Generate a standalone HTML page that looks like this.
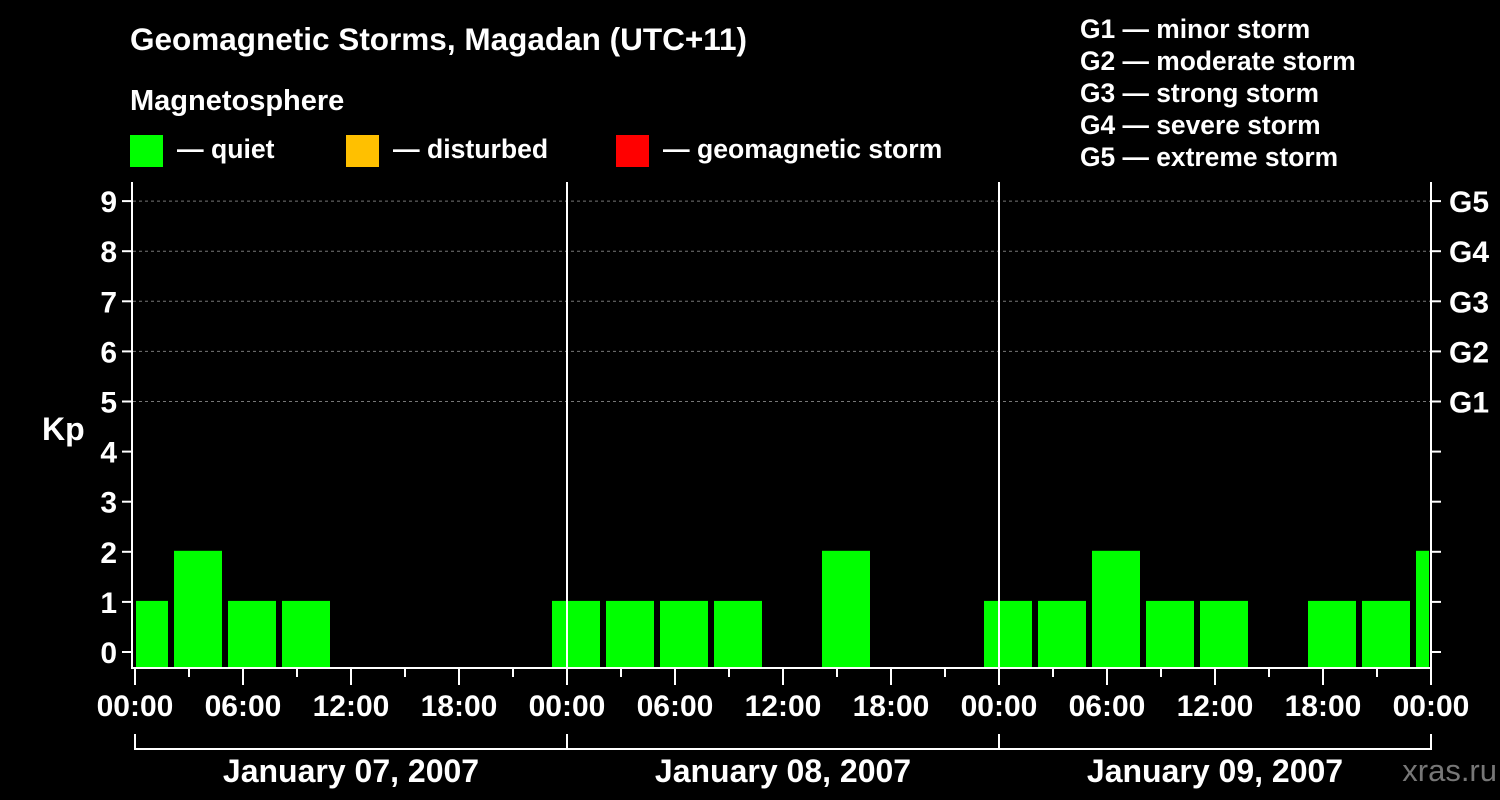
<!DOCTYPE html>
<html><head><meta charset="utf-8"><style>
html,body{margin:0;padding:0;background:#000;}
svg{display:block;font-family:"Liberation Sans",sans-serif;font-weight:bold;}
</style></head><body>
<svg width="1500" height="800" viewBox="0 0 1500 800">
<rect x="0" y="0" width="1500" height="800" fill="#000"/>
<text x="130" y="50" fill="#fff" font-size="31.5">Geomagnetic Storms, Magadan (UTC+11)</text>
<text x="130" y="110" fill="#fff" font-size="29">Magnetosphere</text>
<g><rect x="130" y="135" width="33" height="32" fill="#00ff00"/><text x="177" y="158" fill="#fff" font-size="26.6">— quiet</text></g>
<g><rect x="346" y="135" width="33" height="32" fill="#ffc000"/><text x="393" y="158" fill="#fff" font-size="26.6">— disturbed</text></g>
<g><rect x="616" y="135" width="33" height="32" fill="#ff0000"/><text x="663" y="158" fill="#fff" font-size="26.6">— geomagnetic storm</text></g>
<g fill="#fff" font-size="26.4">
<text x="1080" y="38">G1 — minor storm</text>
<text x="1080" y="70">G2 — moderate storm</text>
<text x="1080" y="102">G3 — strong storm</text>
<text x="1080" y="134">G4 — severe storm</text>
<text x="1080" y="166">G5 — extreme storm</text>
</g>
<g id="plot"></g>
<text x="1497" y="781" fill="#777" font-size="31" text-anchor="end" font-weight="normal">xras.ru</text>
</svg>
<script>
const kpValues=[1,2,1,1,0,0,0,0,1,1,1,1,0,2,0,0,1,1,2,1,1,0,1,1,2];
const binStartHour=-1;
const dayLabels=["January 07, 2007","January 08, 2007","January 09, 2007"];
const hourLabels=["00:00","06:00","12:00","18:00"];
const yTicks=[0,1,2,3,4,5,6,7,8,9];
const gLabels=["G1","G2","G3","G4","G5"];

const NS="http://www.w3.org/2000/svg";
const g=document.getElementById('plot');
const X0=135,X1=1431,YB=667,Y0=652,YU=50.1,PT=182;
const hx=h=>X0+h*(X1-X0)/72;
const ky=v=>Y0-v*YU;
function el(t,a,p){const e=document.createElementNS(NS,t);for(const k in a)e.setAttribute(k,a[k]);(p||g).appendChild(e);return e;}


for(const v of [5,6,7,8,9]){
 const l=el('line',{x1:133,x2:1430,y1:ky(v),y2:ky(v),stroke:'#777','stroke-dasharray':'3,3','stroke-width':1});
 
 
}
kpValues.forEach((v,i)=>{
 if(v<=0)return;
 const h0=binStartHour+3*i;
 let a=hx(h0)+3,b=hx(h0+3)-3;
 a=Math.max(a,136);b=Math.min(b,1429);
 if(b<=a)return;
 const r=el('rect',{x:a,y:ky(v)-1,width:b-a,height:YB-ky(v)+1,fill:'#00ff00'});
 
 
});
for(let d=1;d<3;d++){
 const l=el('line',{x1:hx(24*d),x2:hx(24*d),y1:PT,y2:YB,stroke:'#fff','stroke-width':2});
 
 
}
const f=el('path',{d:`M${X0-3} ${PT} V${YB+1} H${X1}`,stroke:'#fff','stroke-width':2,fill:'none'});


const rf=el('line',{x1:1431,x2:1431,y1:PT,y2:YB+1,stroke:'#fff','stroke-width':2});


yTicks.forEach(v=>{
 const t=el('line',{x1:122,x2:132,y1:ky(v),y2:ky(v),stroke:'#fff','stroke-width':2});
 
 
 const tr=el('line',{x1:1431,x2:1441,y1:ky(v),y2:ky(v),stroke:'#fff','stroke-width':2});
 
 
 const tx=el('text',{x:117,y:ky(v)+11,fill:'#fff','font-size':30,'text-anchor':'end'});
 tx.textContent=v;
 
 
});
gLabels.forEach((s,i)=>{
 const tx=el('text',{x:1449,y:ky(5+i)+11,fill:'#fff','font-size':30});
 tx.textContent=s;
 
 
});
const kp=el('text',{x:42,y:440,fill:'#fff','font-size':32});
kp.textContent='Kp';


for(let h=0;h<=72;h+=3){
 const major=h%6===0;
 const t=el('line',{x1:hx(h),x2:hx(h),y1:YB+1,y2:YB+(major?18:10),stroke:'#fff','stroke-width':2});
 
 
 if(major){
  const tx=el('text',{x:hx(h),y:716,fill:'#fff','font-size':30,'text-anchor':'middle'});
  tx.textContent=hourLabels[(h/6)%4];
  
  
 }
}
const br=el('line',{x1:X0,x2:X1,y1:749,y2:749,stroke:'#fff','stroke-width':2});


for(let d=0;d<=3;d++){
 const t=el('line',{x1:hx(24*d),x2:hx(24*d),y1:734,y2:750,stroke:'#fff','stroke-width':2});
 
 
}
dayLabels.forEach((s,d)=>{
 const tx=el('text',{x:hx(24*d+12),y:782,fill:'#fff','font-size':32,'text-anchor':'middle'});
 tx.textContent=s;
 
 
});
</script>
</body></html>
